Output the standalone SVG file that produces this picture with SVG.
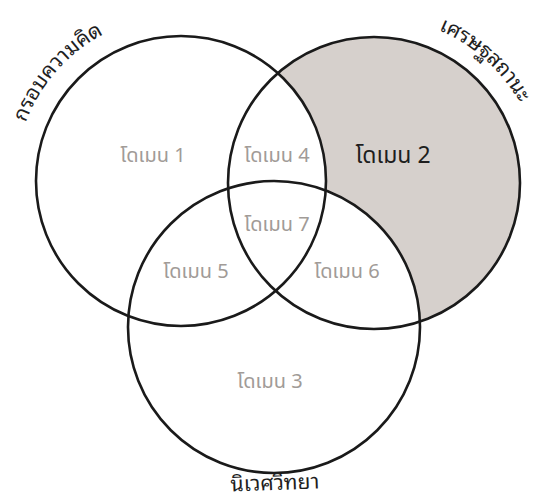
<svg xmlns="http://www.w3.org/2000/svg" width="541" height="500" viewBox="0 0 541 500">
<style>
.ring{fill:none;stroke:#1a1a1a;stroke-width:2.6}
.lbl{font-family:"Noto Sans Thai","Noto Sans","DejaVu Sans",sans-serif;font-size:20px;fill:#a19b97;text-anchor:middle}
.main{font-family:"Noto Sans Thai","Noto Sans","DejaVu Sans",sans-serif;font-size:23px;fill:#1e1e1e;text-anchor:middle}
.ttl{font-family:"Noto Sans Thai Looped","Noto Sans Thai","Noto Sans","DejaVu Sans",sans-serif;font-size:21px;fill:#1e1e1e}
</style>
<defs>
<mask id="only2">
<rect x="0" y="0" width="541" height="500" fill="#000"/>
<circle cx="374" cy="183" r="146" fill="#fff"/>
<circle cx="181" cy="181" r="145" fill="#000"/>
<circle cx="274" cy="327" r="146" fill="#000"/>
</mask>
<path id="arcL" d="M23.7,234 A166,166 0 0 1 213.8,18.3"/>
<path id="arcR" d="M322.7,25.1 A166,166 0 0 1 536.4,217.5"/>
</defs>
<rect x="0" y="0" width="541" height="500" fill="#fff"/>
<circle cx="374" cy="183" r="146" fill="#d6d0cc" mask="url(#only2)"/>
<g id="connectors"></g>
<g id="circle-concept"><circle class="ring" cx="181" cy="181" r="145"/>
<text class="ttl"><textPath href="#arcL" startOffset="50%" text-anchor="middle">กรอบความคิด</textPath></text></g>
<g id="circle-economic"><circle class="ring" cx="374" cy="183" r="146"/>
<text class="ttl"><textPath href="#arcR" startOffset="50%" text-anchor="middle">เศรษฐสถานะ</textPath></text></g>
<g id="circle-ecology"><circle class="ring" cx="274" cy="327" r="146"/>
<text class="ttl" x="275" y="490" text-anchor="middle" font-size="20" transform="rotate(-2 275 486)">นิเวศวิทยา</text></g>
<g id="domain1"><text class="lbl" x="153" y="162">โดเมน 1</text></g>
<g id="domain2"><text class="main" x="393" y="163">โดเมน 2</text></g>
<g id="domain3"><text class="lbl" x="270" y="388">โดเมน 3</text></g>
<g id="domain4"><text class="lbl" x="277" y="162">โดเมน 4</text></g>
<g id="domain5"><text class="lbl" x="196" y="278">โดเมน 5</text></g>
<g id="domain6"><text class="lbl" x="347" y="278">โดเมน 6</text></g>
<g id="domain7"><text class="lbl" x="277" y="231">โดเมน 7</text></g>
</svg>
